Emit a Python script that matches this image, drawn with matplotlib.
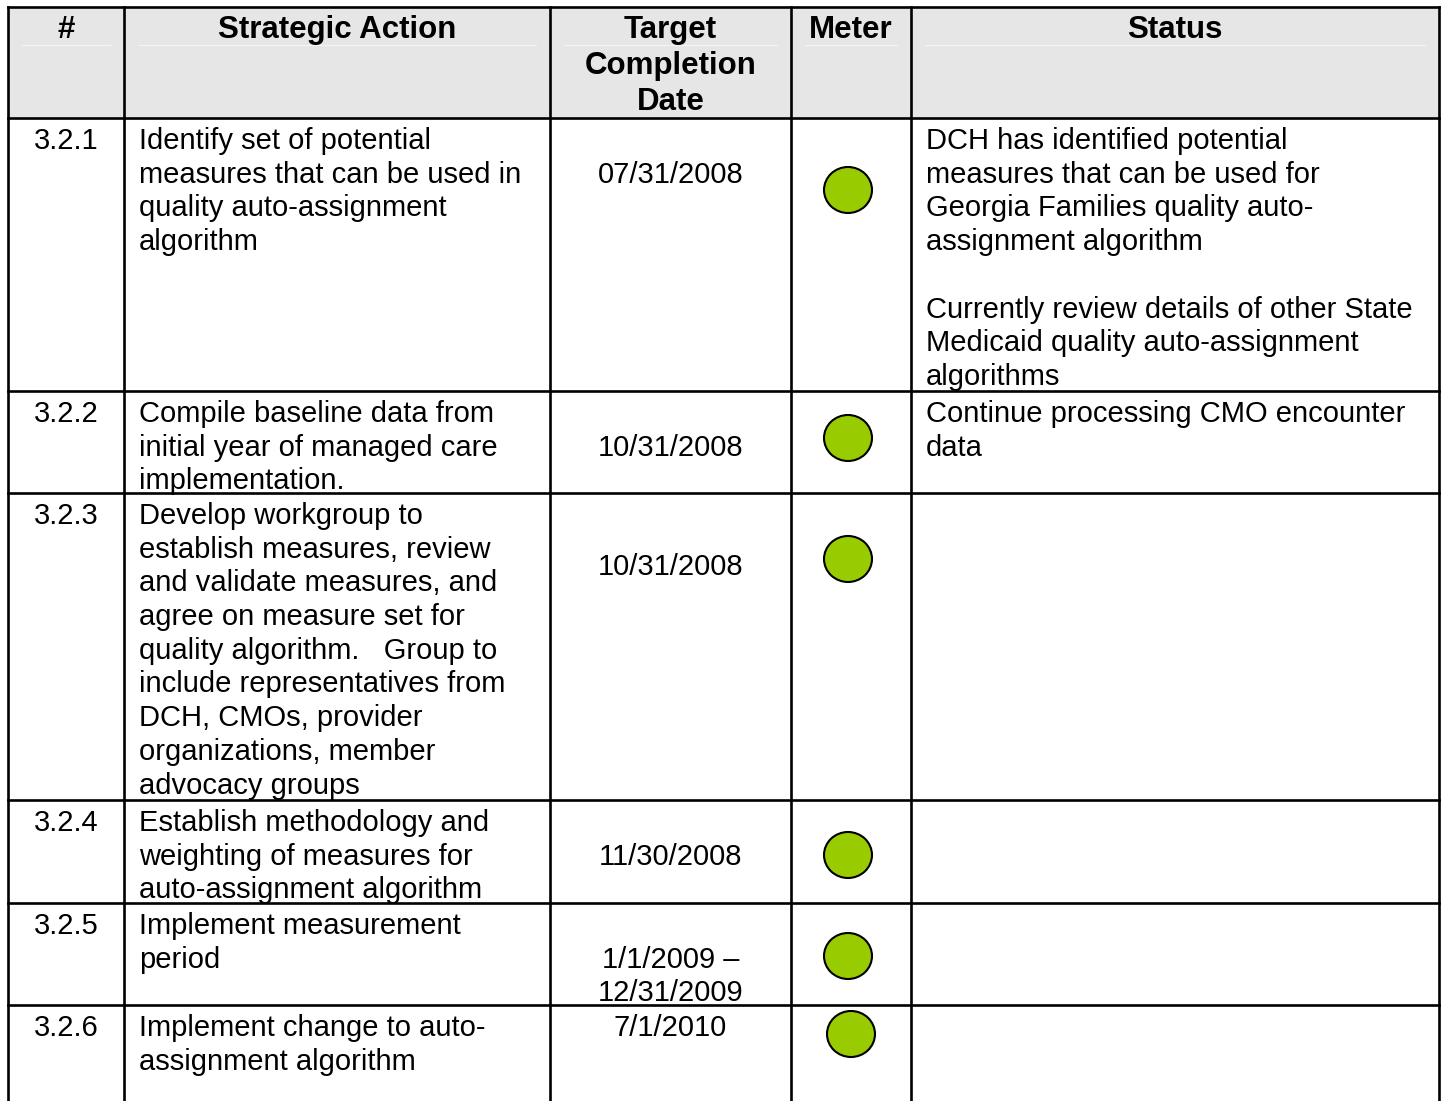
import matplotlib
matplotlib.use('Agg')
import matplotlib.pyplot as plt
from matplotlib.patches import Ellipse, Rectangle

# Table content
headers = ["#", "Strategic Action", "Target\nCompletion\nDate", "Meter", "Status"]
numbers = ["3.2.1", "3.2.2", "3.2.3", "3.2.4", "3.2.5", "3.2.6"]
actions = [
    "Identify set of potential\nmeasures that can be used in\nquality auto-assignment\nalgorithm",
    "Compile baseline data from\ninitial year of managed care\nimplementation.",
    "Develop workgroup to\nestablish measures, review\nand validate measures, and\nagree on measure set for\n"
    "quality algorithm.   Group to\ninclude representatives from\nDCH, CMOs, provider\n"
    "organizations, member\nadvocacy groups",
    "Establish methodology and\nweighting of measures for\nauto-assignment algorithm",
    "Implement measurement\nperiod",
    "Implement change to auto-\nassignment algorithm",
]
dates = ["07/31/2008", "10/31/2008", "10/31/2008", "11/30/2008",
         "1/1/2009 \u2013\n12/31/2009", "7/1/2010"]
meter = ["green", "green", "green", "green", "green", "green"]
status = [
    "DCH has identified potential\nmeasures that can be used for\nGeorgia Families quality auto-\n"
    "assignment algorithm\n\nCurrently review details of other State\nMedicaid quality auto-assignment\nalgorithms",
    "Continue processing CMO encounter\ndata",
    "", "", "", "",
]

# Layout (pixels)
W, H = 1444, 1101
col_x = [8, 124, 550, 791, 911, 1439]
row_y = [7, 118, 391, 493, 800, 903, 1005]
pitch = 33.7
first_base = 31
date_line = [1, 1, 1.5, 1, 1, 0]      # line index where date starts
meter_y = [190, 438, 559, 855, 956, 1034]
meter_x = [848, 848, 848, 848, 848, 851]
meter_colors = {"green": "#99cc00"}

fs = 21
fs_head = 22.5
fam = ["Liberation Sans", "DejaVu Sans"]

fig = plt.figure(figsize=(W / 100, H / 100), dpi=100)
ax = fig.add_axes([0, 0, 1, 1])
ax.set_xlim(0, W)
ax.set_ylim(H, 0)
ax.axis('off')

# header background
ax.add_patch(Rectangle((col_x[0], row_y[0]), col_x[-1] - col_x[0], row_y[1] - row_y[0],
                       facecolor='#e6e6e6', edgecolor='none', zorder=0))
for i in range(5):
    ax.plot([col_x[i] + 14, col_x[i + 1] - 14], [45, 45], color='#f6f6f6', lw=0.7, zorder=1)


def put_lines(text, x, top, ha, start=0.0, weight='normal', step=pitch, size=fs):
    for k, line in enumerate(text.split("\n")):
        if line == "":
            continue
        ax.text(x, top + first_base + (start + k) * step, line, ha=ha, va='baseline',
                fontsize=size, family=fam, weight=weight, color='black', zorder=3)


# header text
for i, h in enumerate(headers):
    cx = (col_x[i] + col_x[i + 1]) / 2
    put_lines(h, cx, row_y[0], 'center', weight='bold', step=36, size=fs_head)

# body rows
for r in range(len(numbers)):
    top = row_y[r + 1]
    put_lines(numbers[r], (col_x[0] + col_x[1]) / 2, top, 'center')
    put_lines(actions[r], col_x[1] + 15, top, 'left')
    put_lines(dates[r], (col_x[2] + col_x[3]) / 2, top, 'center', start=date_line[r])
    put_lines(status[r], col_x[4] + 15, top, 'left')
    ax.add_patch(Ellipse((meter_x[r], meter_y[r]), 48, 46, facecolor=meter_colors[meter[r]],
                         edgecolor='black', lw=1.5, zorder=3))

# grid lines
for x in col_x:
    ax.plot([x, x], [row_y[0], H], color='black', lw=1.9, zorder=2, solid_capstyle='projecting')
for y in row_y:
    ax.plot([col_x[0], col_x[-1]], [y, y], color='black', lw=1.9, zorder=2, solid_capstyle='projecting')

fig.savefig("out.png", dpi=100)
